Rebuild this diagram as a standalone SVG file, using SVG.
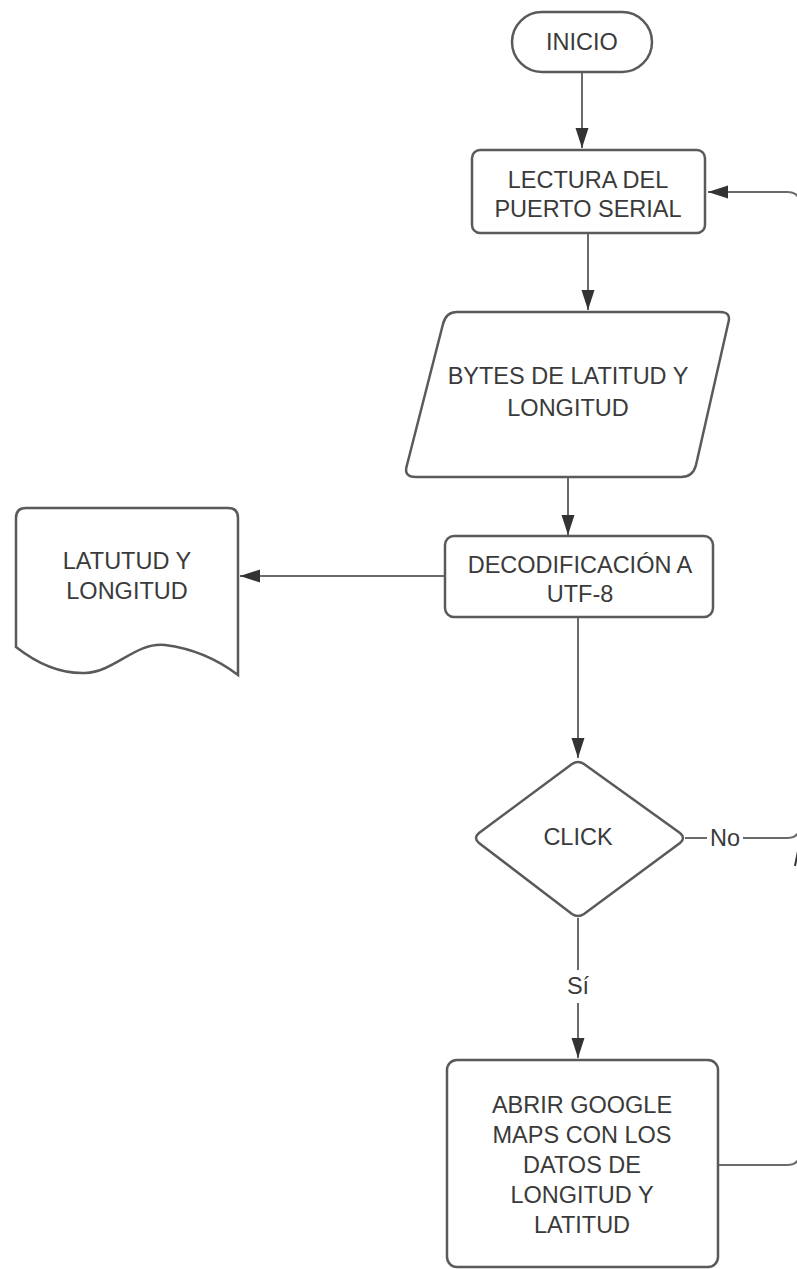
<svg xmlns="http://www.w3.org/2000/svg" width="797" height="1269" viewBox="0 0 797 1269">
<style>
.shape{fill:#ffffff;stroke:#5a5a5a;stroke-width:2.5}
.conn{fill:none;stroke:#6a6a6a;stroke-width:2}
.t{font-family:"Liberation Sans",Arial,sans-serif;font-size:23.5px;fill:#3a3a3a;text-anchor:middle}
</style>
<defs>
<marker id="ah" markerUnits="userSpaceOnUse" markerWidth="22" markerHeight="14" refX="20" refY="6.5" orient="auto">
<path d="M0,0 L20,6.5 L0,13 z" fill="#333333"/>
</marker>
</defs>
<rect x="0" y="0" width="797" height="1269" fill="#ffffff"/>
<g id="connectors">
<path class="conn" d="M582,72 L582,148" marker-end="url(#ah)"/>
<path class="conn" d="M588,233 L588,310" marker-end="url(#ah)"/>
<path class="conn" d="M568,477 L568,535" marker-end="url(#ah)"/>
<path class="conn" d="M445,576 L240,576" marker-end="url(#ah)"/>
<path class="conn" d="M578,617 L578,758" marker-end="url(#ah)"/>
<path class="conn" d="M578,918 L578,1058" marker-end="url(#ah)"/>
<path class="conn" d="M685,838 L787,838 Q800,838 800,825"/>
<path class="conn" d="M718,1165 L787,1165 Q800,1165 800,1152 L800,205 Q800,192 787,192 L708,192" marker-end="url(#ah)"/>
<path d="M798,851 L795,866" fill="none" stroke="#333333" stroke-width="2"/>
<rect x="707" y="824" width="36" height="28" fill="#ffffff"/>
<text class="t" x="725" y="846">No</text>
<rect x="564" y="970" width="28" height="33" fill="#ffffff"/>
<text class="t" x="578" y="994">Sí</text>
</g>
<g id="inicio">
<rect class="shape" x="512" y="12" width="140" height="60" rx="30" ry="30"/>
<text class="t" x="582" y="50">INICIO</text>
</g>
<g id="lectura">
<rect class="shape" x="472" y="150" width="233" height="83" rx="8" ry="8"/>
<text class="t" x="588" y="188">LECTURA DEL</text>
<text class="t" x="588" y="217">PUERTO SERIAL</text>
</g>
<g id="bytes">
<path class="shape" d="M457,312 L720,312 Q732,312 728,324 L696,465 Q693,477 681,477 L416,477 Q403,477 407,465 L443,324 Q446,312 457,312 Z"/>
<text class="t" x="568" y="384">BYTES DE LATITUD Y</text>
<text class="t" x="568" y="416">LONGITUD</text>
</g>
<g id="decodificacion">
<rect class="shape" x="445" y="536" width="268" height="81" rx="9" ry="9"/>
<text class="t" x="580" y="573">DECODIFICACIÓN A</text>
<text class="t" x="580" y="602">UTF-8</text>
</g>
<g id="documento">
<path class="shape" d="M26,508 L228,508 Q238,508 238,518 L238,675 Q205,650 165,645 C135,642 115,672 85,673 C55,674 30,658 16,647 L16,518 Q16,508 26,508 Z"/>
<text class="t" x="127" y="569">LATUTUD Y</text>
<text class="t" x="127" y="599">LONGITUD</text>
</g>
<g id="click">
<path class="shape" d="M572,764 Q578,760 584,764 L680,833 Q686,838 680,843 L584,914 Q578,918 572,914 L479,843 Q473,838 479,833 Z"/>
<text class="t" x="578" y="845">CLICK</text>
</g>
<g id="abrir">
<rect class="shape" x="447" y="1060" width="271" height="207" rx="10" ry="10"/>
<text class="t" x="582" y="1113">ABRIR GOOGLE</text>
<text class="t" x="582" y="1143">MAPS CON LOS</text>
<text class="t" x="582" y="1173">DATOS DE</text>
<text class="t" x="582" y="1203">LONGITUD Y</text>
<text class="t" x="582" y="1233">LATITUD</text>
</g>
</svg>
